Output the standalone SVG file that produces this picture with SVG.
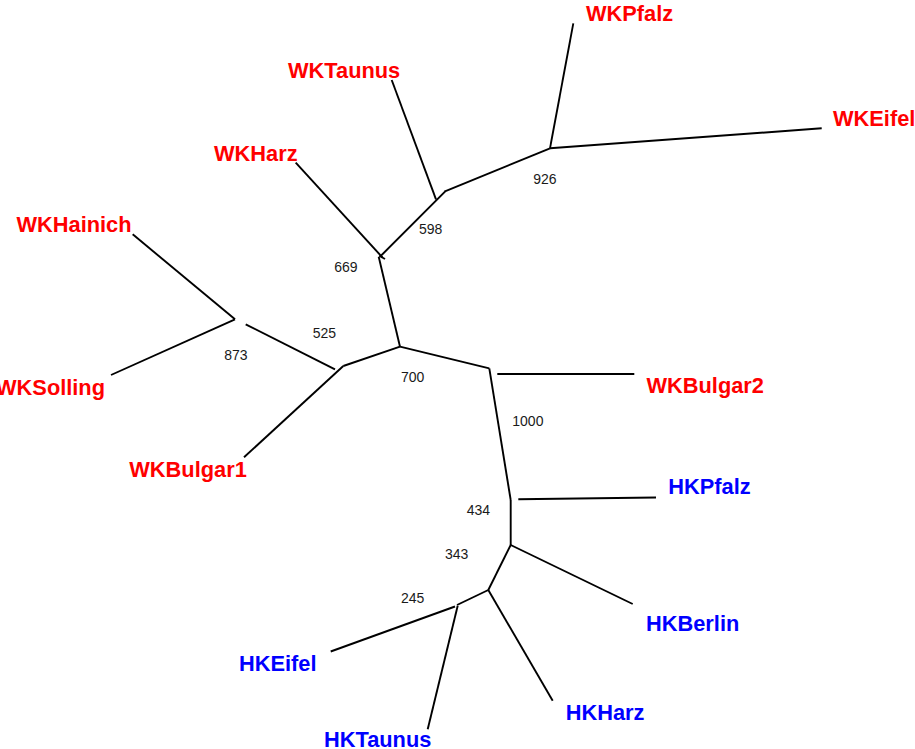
<svg xmlns="http://www.w3.org/2000/svg" width="915" height="749" viewBox="0 0 915 749">
<style>
.e{stroke:#000;stroke-width:1.9;fill:none;stroke-linecap:butt}
.wk{font-family:"Liberation Sans",Arial,sans-serif;font-weight:bold;font-size:21.8px;fill:#ff0000}
.hk{font-family:"Liberation Sans",Arial,sans-serif;font-weight:bold;font-size:21.8px;fill:#0000ff}
.bs{font-family:"Liberation Sans",Arial,sans-serif;font-size:14px;fill:#1a1a1a}
</style>
<rect width="915" height="749" fill="#fff"/>
<g id="connectors">
<line class="e" x1="573.3" y1="23.3" x2="550" y2="148.3"/>
<line class="e" x1="550" y1="148.3" x2="821.7" y2="128.3"/>
<line class="e" x1="444.3" y1="191.7" x2="550" y2="148.3"/>
<line class="e" x1="391.7" y1="80" x2="436" y2="199.3"/>
<line class="e" x1="380" y1="256.7" x2="445" y2="191.7"/>
<line class="e" x1="295.7" y1="162.7" x2="382.5" y2="257.5"/>
<line class="e" x1="379.3" y1="255.7" x2="385" y2="259"/>
<line class="e" x1="378.7" y1="256.7" x2="400" y2="346.7"/>
<line class="e" x1="400" y1="346.7" x2="343.3" y2="366"/>
<line class="e" x1="335" y1="369.3" x2="245.7" y2="324.3"/>
<line class="e" x1="343.3" y1="366" x2="244" y2="457.3"/>
<line class="e" x1="132.7" y1="234.3" x2="235" y2="319.3"/>
<line class="e" x1="235" y1="319.3" x2="111" y2="375"/>
<line class="e" x1="400" y1="346.7" x2="489.3" y2="368.3"/>
<line class="e" x1="489.3" y1="368.3" x2="510.7" y2="500"/>
<line class="e" x1="497.3" y1="374" x2="634.3" y2="374"/>
<line class="e" x1="518.3" y1="499.3" x2="656" y2="497.5"/>
<line class="e" x1="510.7" y1="500" x2="510.7" y2="545"/>
<line class="e" x1="510.7" y1="545" x2="632.7" y2="604"/>
<line class="e" x1="510.7" y1="545" x2="488.3" y2="590"/>
<line class="e" x1="488.3" y1="590" x2="552.7" y2="700.7"/>
<line class="e" x1="488.3" y1="590" x2="457" y2="605"/>
<line class="e" x1="330.7" y1="651.5" x2="455" y2="606.5"/>
<line class="e" x1="427.7" y1="729.3" x2="457.7" y2="605.7"/>
</g>
<g id="WKPfalz"><text class="wk" x="586" y="21">WKPfalz</text></g>
<g id="WKEifel"><text class="wk" x="833" y="126">WKEifel</text></g>
<g id="WKTaunus"><text class="wk" x="288" y="78.3">WKTaunus</text></g>
<g id="WKHarz"><text class="wk" x="214" y="160.7">WKHarz</text></g>
<g id="WKHainich"><text class="wk" x="16.5" y="232.3">WKHainich</text></g>
<g id="WKSolling"><text class="wk" x="105" y="395" text-anchor="end">WKSolling</text></g>
<g id="WKBulgar1"><text class="wk" x="129.3" y="476.5">WKBulgar1</text></g>
<g id="WKBulgar2"><text class="wk" x="646.5" y="393.3">WKBulgar2</text></g>
<g id="HKPfalz"><text class="hk" x="668.3" y="494">HKPfalz</text></g>
<g id="HKBerlin"><text class="hk" x="646" y="630.7">HKBerlin</text></g>
<g id="HKHarz"><text class="hk" x="565.7" y="720">HKHarz</text></g>
<g id="HKEifel"><text class="hk" x="239" y="670.7">HKEifel</text></g>
<g id="HKTaunus"><text class="hk" x="324" y="747">HKTaunus</text></g>
<g id="n926"><text class="bs" x="533.3" y="184">926</text></g>
<g id="n598"><text class="bs" x="419" y="234.3">598</text></g>
<g id="n669"><text class="bs" x="334.3" y="271.7">669</text></g>
<g id="n525"><text class="bs" x="312.7" y="337.7">525</text></g>
<g id="n873"><text class="bs" x="224.3" y="360">873</text></g>
<g id="n700"><text class="bs" x="401" y="381.7">700</text></g>
<g id="n1000"><text class="bs" x="512.3" y="426">1000</text></g>
<g id="n434"><text class="bs" x="466.7" y="515">434</text></g>
<g id="n343"><text class="bs" x="445" y="559">343</text></g>
<g id="n245"><text class="bs" x="401" y="603.3">245</text></g>
</svg>
